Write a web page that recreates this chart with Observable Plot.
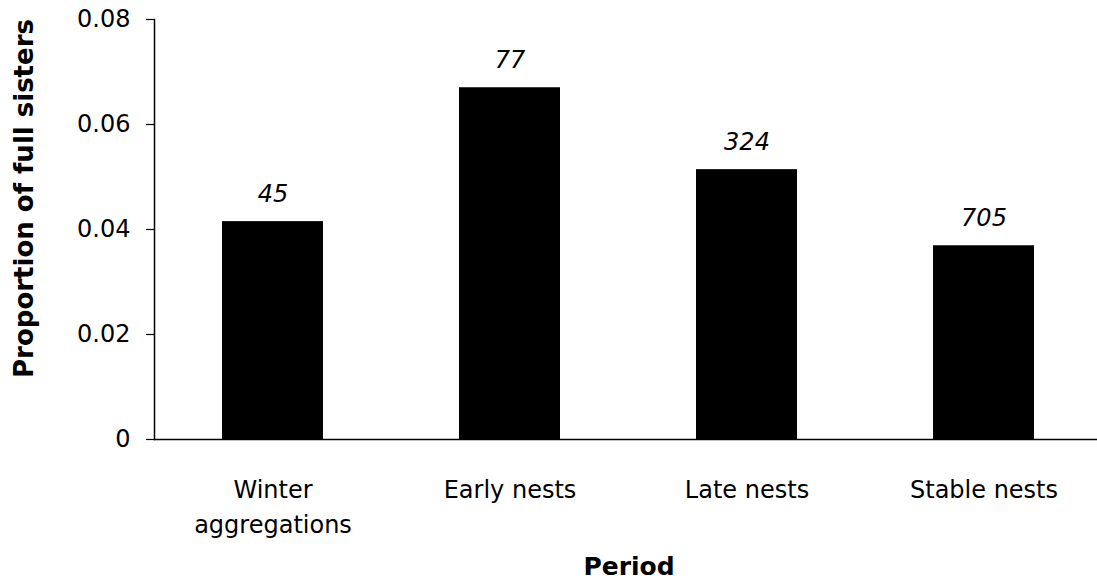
<!DOCTYPE html>
<html>
<head>
<meta charset="utf-8">
<script src="https://cdn.jsdelivr.net/npm/d3@7"></script>
<script src="https://cdn.jsdelivr.net/npm/@observablehq/plot@0.6"></script>
<style>
  html, body { margin: 0; padding: 0; background: #fff; }
  #chart svg { display: block; }
</style>
</head>
<body>
<div id="chart"></div>
<script>
const categories = ["Winter aggregations", "Early nests", "Late nests", "Stable nests"];
const tickLabels = ["Winter\naggregations", "Early nests", "Late nests", "Stable nests"];
const proportions = [0.0415, 0.0670, 0.0514, 0.0369];
const sampleSizes = [45, 77, 324, 705];
const yTicks = [0, 0.02, 0.04, 0.06, 0.08];
const yTickLabels = ["0", "0.02", "0.04", "0.06", "0.08"];
const yTitle = "Proportion of full sisters";
const xTitle = "Period";

const data = categories.map((c, i) => ({cat: c, value: proportions[i], n: sampleSizes[i]}));
const catLabel = new Map(categories.map((c, i) => [c, tickLabels[i]]));
const yLabel = new Map(yTicks.map((t, i) => [t, yTickLabels[i]]));

const chart = Plot.plot({
  width: 1097,
  height: 580,
  marginLeft: 154,
  marginRight: 0,
  marginTop: 19,
  marginBottom: 141,
  style: {fontFamily: "'DejaVu Sans', sans-serif", fontSize: "24px", background: "#fff", color: "#000"},
  x: {domain: categories, range: [154, 1102], paddingInner: 0.574, paddingOuter: 0.287, align: 0.5},
  y: {domain: [0, 0.08]},
  marks: [
    Plot.barY(data, {x: "cat", y: "value", fill: "#000"}),
    Plot.text(data, {x: "cat", y: "value", text: d => String(d.n), dy: -27, lineAnchor: "middle", fontStyle: "italic", fontSize: 24, fill: "#000"}),
    Plot.ruleY([0], {stroke: "#000", strokeWidth: 1.5}),
    Plot.frame({anchor: "left", stroke: "#000", strokeWidth: 1.5}),
    Plot.axisY({ticks: yTicks, tickFormat: d => yLabel.get(d), tickSize: 8, tickPadding: 16, label: null, fontSize: 24, stroke: "#000", strokeWidth: 1.2}),
    Plot.axisX({tickSize: 0, tickPadding: 34, tickFormat: d => catLabel.get(d), lineHeight: 1.45, label: null, fontSize: 24}),
    Plot.text([yTitle], {frameAnchor: "left", rotate: -90, dx: -130, dy: -31, lineAnchor: "middle", textAnchor: "middle", fontWeight: "bold", fontSize: 26, fill: "#000"}),
    Plot.text([xTitle], {frameAnchor: "bottom", dx: 3, dy: 127, lineAnchor: "middle", textAnchor: "middle", fontWeight: "bold", fontSize: 25, fill: "#000"})
  ]
});
document.getElementById("chart").appendChild(chart);
</script>
</body>
</html>
